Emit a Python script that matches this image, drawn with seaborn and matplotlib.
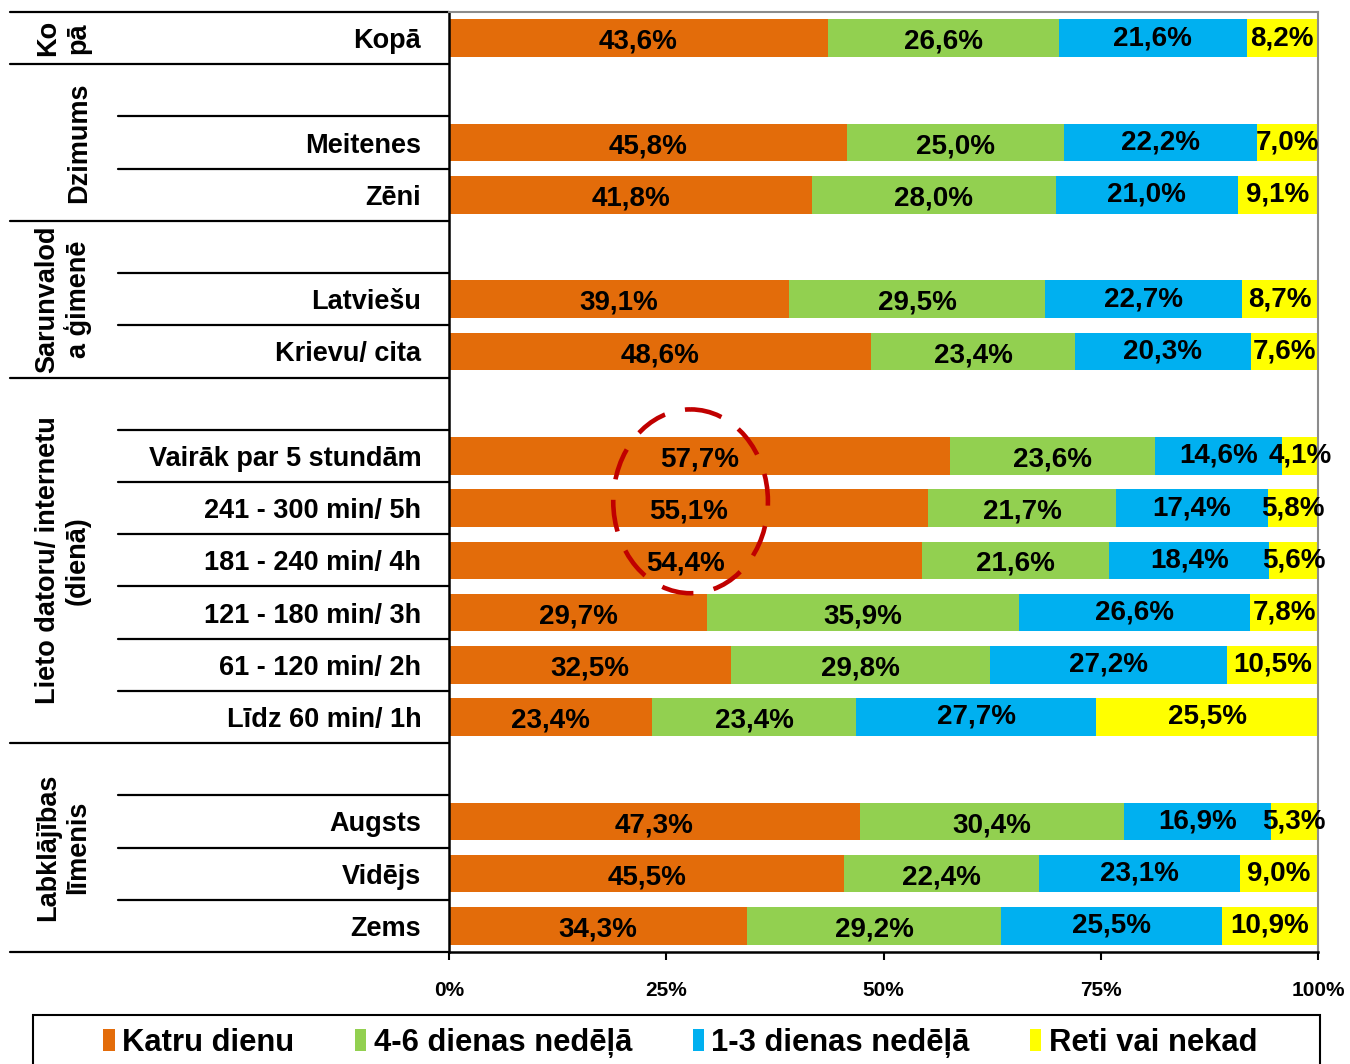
import numpy as np
import pandas as pd
import matplotlib
matplotlib.use("Agg")
import matplotlib.pyplot as plt
import seaborn as sns
from matplotlib.patches import Ellipse, Patch, Rectangle

# ---------------- data ----------------
rows = ["Kopā", "", "Meitenes", "Zēni", " ", "Latviešu", "Krievu/ cita", "  ",
        "Vairāk par 5 stundām", "241 - 300 min/ 5h", "181 - 240 min/ 4h",
        "121 - 180 min/ 3h", "61 - 120 min/ 2h", "Līdz 60 min/ 1h", "   ",
        "Augsts", "Vidējs", "Zems"]
categories = [r for r in rows if r.strip()]
katru_dienu = [43.6, 45.8, 41.8, 39.1, 48.6, 57.7, 55.1, 54.4, 29.7, 32.5, 23.4, 47.3, 45.5, 34.3]
dienas_4_6 = [26.6, 25.0, 28.0, 29.5, 23.4, 23.6, 21.7, 21.6, 35.9, 29.8, 23.4, 30.4, 22.4, 29.2]
dienas_1_3 = [21.6, 22.2, 21.0, 22.7, 20.3, 14.6, 17.4, 18.4, 26.6, 27.2, 27.7, 16.9, 23.1, 25.5]
reti = [8.2, 7.0, 9.1, 8.7, 7.6, 4.1, 5.8, 5.6, 7.8, 10.5, 25.5, 5.3, 9.0, 10.9]
series_names = ["Katru dienu", "4-6 dienas nedēļā", "1-3 dienas nedēļā", "Reti vai nekad"]
colors = ["#E36C0A", "#92D050", "#00B0F0", "#FFFF00"]
groups = [("Ko\npā", 0, 0), ("Dzimums", 1, 3), ("Sarunvalod\na ģimenē", 4, 6),
          ("Lieto datoru/ internetu\n(dienā)", 7, 13), ("Labklājības\nlīmenis", 14, 17)]
x_ticks = [0, 25, 50, 75, 100]
x_ticklabels = ["0%", "25%", "50%", "75%", "100%"]

# ---------------- figure ----------------
sns.set_style("white")
plt.rcParams["font.family"] = ["Liberation Sans", "DejaVu Sans"]
plt.rcParams["font.weight"] = "bold"
plt.rcParams["text.color"] = "black"
plt.rcParams["xtick.color"] = "black"
plt.rcParams["ytick.color"] = "black"

W, H = 1350, 1064
fig = plt.figure(figsize=(W / 100, H / 100), dpi=100)
ax = fig.add_axes([449 / W, 1 - 952 / H, (1318 - 449) / W, (952 - 12) / H])

df = pd.DataFrame({"cat": categories, "s1": katru_dienu, "s2": dienas_4_6,
                   "s3": dienas_1_3, "s4": reti})
vals = df[["s1", "s2", "s3", "s4"]].to_numpy()
cum = np.cumsum(vals, axis=1)
for k in range(3, -1, -1):
    d = pd.DataFrame({"cat": categories, "v": cum[:, k]})
    sns.barplot(data=d, y="cat", x="v", order=rows, orient="h", color=colors[k],
                width=0.72, ax=ax, saturation=1, errorbar=None, linewidth=0)

# value labels
dy = [0.07, 0.07, 0.0, 0.0]
for i, cat in enumerate(categories):
    yi = rows.index(cat)
    left = 0
    for k in range(4):
        v = vals[i, k]
        ax.text(left + v / 2, yi + dy[k], f"{v:.1f}%".replace(".", ","), ha="center",
                va="center", fontsize=20, fontweight="bold", color="black")
        left += v

ax.set_xlim(0, 100)
ax.set_ylim(len(rows) - 0.5, -0.5)
ax.set_xlabel("")
ax.set_ylabel("")
ax.set_xticks(x_ticks)
ax.set_xticklabels(x_ticklabels, fontsize=15, fontweight="bold", color="black")
ax.set_yticks(range(len(rows)))
ax.set_yticklabels(rows, fontsize=19.5, fontweight="bold", color="black")
ax.tick_params(axis="y", length=0, pad=20)
ax.tick_params(axis="x", length=6, width=1.5, direction="out", pad=15, bottom=True)

for s in ["top", "right"]:
    ax.spines[s].set_color("#8C8C8C")
    ax.spines[s].set_linewidth(1.5)
for s in ["left", "bottom"]:
    ax.spines[s].set_color("black")
    ax.spines[s].set_linewidth(1.8)

# separator lines in the label area
tr = ax.get_yaxis_transform()
x_outer = (10 - 449) / (1318 - 449)
x_inner = (118 - 449) / (1318 - 449)
outer_b = []
inner_b = []
for _, a, b in groups:
    outer_b += [a - 0.5, b + 0.5]
    inner_b += [y + 0.5 for y in range(a, b)]
for y in sorted(set(outer_b)):
    ax.plot([x_outer, 0], [y, y], color="black", lw=1.6, transform=tr, clip_on=False)
for y in inner_b:
    ax.plot([x_inner, 0], [y, y], color="black", lw=1.6, transform=tr, clip_on=False)

# group labels
for name, a, b in groups:
    xg = (63 - 449) / (1318 - 449) if "\n" in name else (79 - 449) / (1318 - 449)
    ax.text(xg, (a + b) / 2, name, rotation=90, ha="center", va="center",
            fontsize=19.5, fontweight="bold", transform=tr, linespacing=1.2,
            multialignment="center", color="black")

# highlight ellipse
ax.add_patch(Ellipse((27.8, 8.87), 17.8, 3.52, fill=False, edgecolor="#C00000",
                     lw=3.3, linestyle=(0, (7, 4.5)), clip_on=False, zorder=5))

# legend (frame drawn as rectangle extending below figure edge)
fig.patches.append(Rectangle((33 / W, -0.05), (1320 - 33) / W, 0.05 + (1064 - 1015) / H,
                             transform=fig.transFigure, fill=False, edgecolor="black",
                             lw=1.5))
handles = [Patch(facecolor=c, edgecolor="none") for c in colors]
leg = fig.legend(handles, series_names, loc="center", ncol=4,
                 bbox_to_anchor=((33 + 1320) / 2 / W + 4 / W, 1 - 1043 / H),
                 frameon=False, prop={"size": 22.3, "weight": "bold"},
                 handletextpad=0.25, handlelength=0.36, handleheight=0.7,
                 columnspacing=1.95, borderpad=0, borderaxespad=0)

fig.savefig("out.png", dpi=100)
